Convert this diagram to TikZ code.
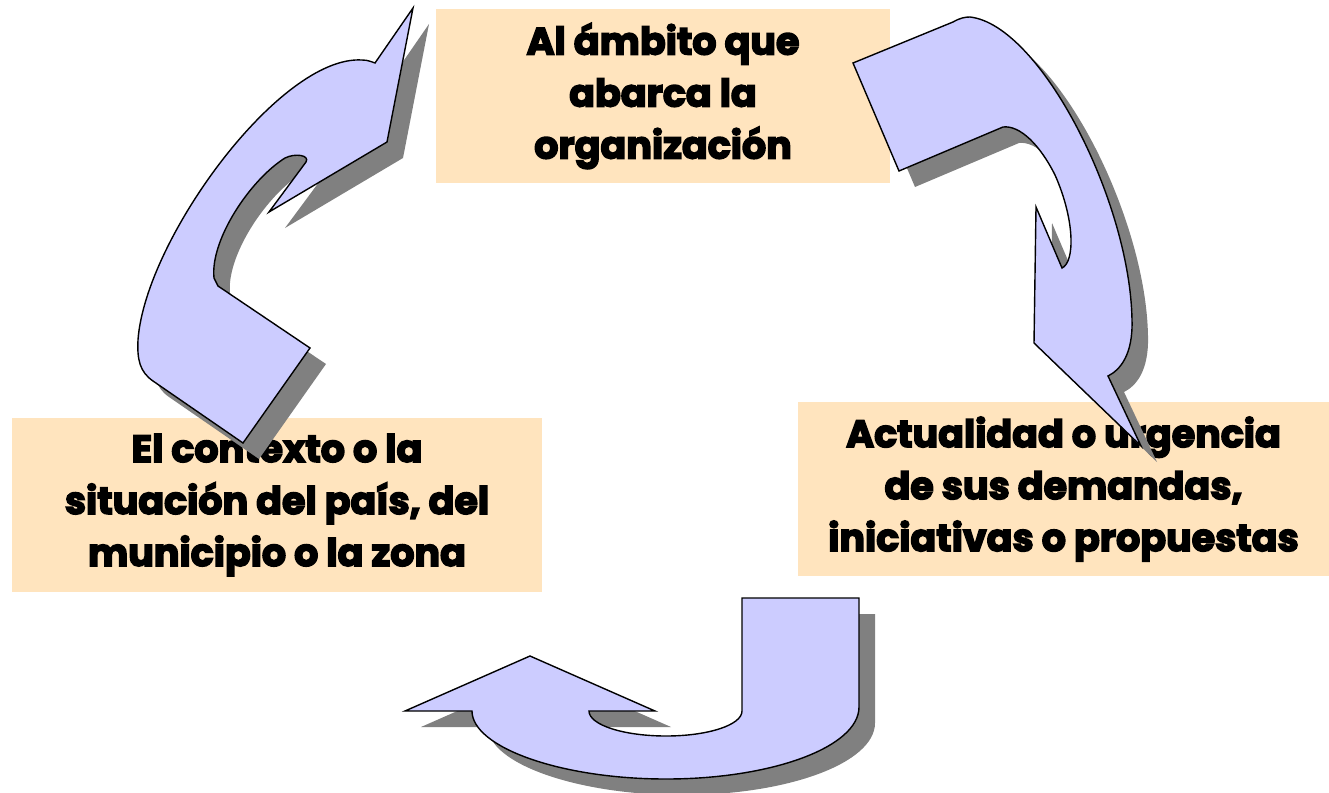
\documentclass[tikz,border=0pt]{standalone}
\usepackage{fontspec}
\newfontfamily\lblfont{Poppins}[BoldFeatures={FakeBold=4}]
\definecolor{boxfill}{RGB}{255,228,190}
\definecolor{arrowfill}{RGB}{204,204,255}
\definecolor{shadowgray}{RGB}{128,128,128}
\begin{document}
\begin{tikzpicture}[x=1pt,y=-1pt,
  textbox/.style={fill=boxfill,draw=none,inner sep=0pt,align=center,
    font=\lblfont\bfseries\fontsize{38}{52}\selectfont},
  bigarrow/.style={fill=arrowfill,draw=black,line width=1.4pt,line join=miter}]
\useasboundingbox (0,0) rectangle (1329,792);
% boxes
\node[textbox,minimum width=454pt,minimum height=174pt] (top) at (663,96)
  {Al ámbito que\\abarca la\\organización};
\node[textbox,minimum width=530pt,minimum height=174pt] (left) at (277,505)
  {El contexto o la\\situación del país, del\\municipio o la zona};
\node[textbox,minimum width=531pt,minimum height=174pt] (right) at (1063.5,489)
  {Actualidad o urgencia\\de sus demandas,\\iniciativas o propuestas};
% arrow paths
\def\leftarrowpath{(413,8) -- (387,142) -- (269,212) -- (306,162)
  .. controls (310,155) and (295,153) .. (285,158)
  .. controls (250,180) and (210,240) .. (214,278) -- (218,286) -- (310,348)
  -- (243,443) -- (153,381) .. controls (140,372) and (137,360) .. (138,340)
  .. controls (145,240) and (280,55) .. (362,60)
  .. controls (368,60) and (372,62) .. (375,63) -- cycle}
\def\rightarrowpath{(853,63) -- (953,22) .. controls (960,18) and (965,17) .. (970,17)
  .. controls (1040,25) and (1130,200) .. (1132,320)
  .. controls (1133,355) and (1120,370) .. (1108,376) -- (1141,446)
  -- (1034,343) -- (1036,207) -- (1062,268)
  .. controls (1075,262) and (1075,220) .. (1055,175)
  .. controls (1040,145) and (1020,125) .. (1003,127) -- (899,171) -- cycle}
\def\bottomarrowpath{(742,598) -- (859,598) -- (859,707)
  .. controls (859,747) and (772,779) .. (666,779)
  .. controls (560,779) and (472,747) .. (472,711)
  -- (405,711) -- (530,656) -- (655,711) -- (589,711)
  .. controls (589,725) and (624,736) .. (666,736)
  .. controls (708,736) and (742,725) .. (742,711) -- cycle}
% shadows
\fill[shadowgray,shift={(16,16)}] \leftarrowpath;
\fill[shadowgray,shift={(16,16)}] \rightarrowpath;
\fill[shadowgray,shift={(16,16)}] \bottomarrowpath;
% arrows
\draw[bigarrow] \leftarrowpath;
\draw[bigarrow] \rightarrowpath;
\draw[bigarrow] \bottomarrowpath;
\end{tikzpicture}
\end{document}
